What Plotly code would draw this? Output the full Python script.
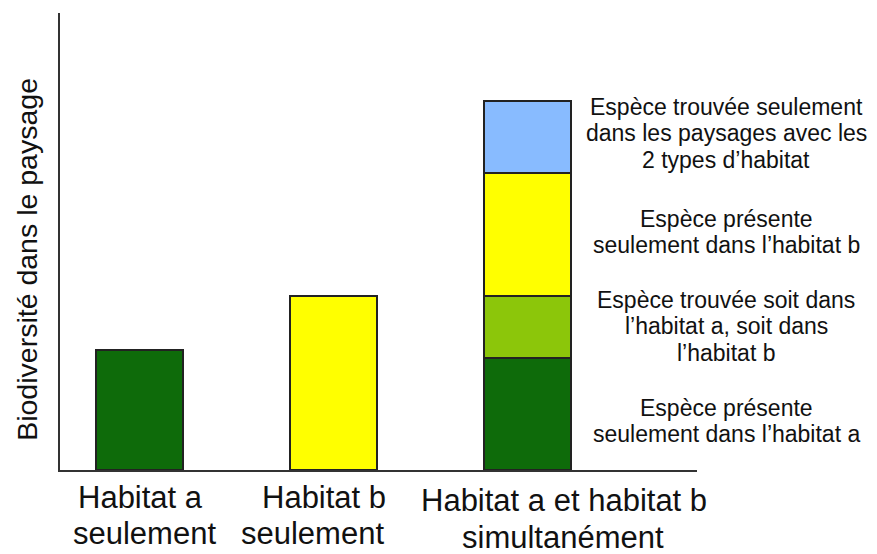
import plotly.graph_objects as go

# bar heights (arbitrary units)
x_pos = [0, 1, 2]
tick_lines = [["Habitat a", "seulement"],
              ["Habitat b", "seulement"],
              ["Habitat a et habitat b", "simultanément"]]
single_a = 120
single_b = 174
stack_a_only = 112
stack_either = 62
stack_b_only = 123
stack_both = 72

segment_lines = [
    ["Espèce présente", "seulement dans l’habitat a"],
    ["Espèce trouvée soit dans", "l’habitat a, soit dans", "l’habitat b"],
    ["Espèce présente", "seulement dans l’habitat b"],
    ["Espèce trouvée seulement", "dans les paysages avec les", "2 types d’habitat"],
]

dark_green = "#0e6b0a"
light_green = "#8cc60a"
yellow = "#ffff00"
blue = "#88bbff"
outline = dict(color="#222222", width=1.5)
txt_col = "#111111"

fig = go.Figure()
fig.add_trace(go.Bar(x=[x_pos[0]], y=[single_a], marker=dict(color=dark_green, line=outline)))
fig.add_trace(go.Bar(x=[x_pos[1]], y=[single_b], marker=dict(color=yellow, line=outline)))
stack = [stack_a_only, stack_either, stack_b_only, stack_both]
colors = [dark_green, light_green, yellow, blue]
for val, col in zip(stack, colors):
    fig.add_trace(go.Bar(x=[x_pos[2]], y=[val], marker=dict(color=col, line=outline)))

# labels next to the stacked bar, line by line (tighter spacing than plotly's <br>)
line_step = 26.5
seg_centre = [421, 326, 232, 133]   # pixel rows of each block's middle
for lines, yc in zip(segment_lines, seg_centre):
    n = len(lines)
    for i, ln in enumerate(lines):
        ypix = yc + (i - (n - 1) / 2) * line_step
        fig.add_annotation(x=1.046, y=(470 - ypix) / 457, xref="paper", yref="paper",
                           text=ln, showarrow=False, xanchor="center", yanchor="middle",
                           font=dict(size=23, color=txt_col))

# category labels under the axis
label_x = [[0.003, 0.028], [0.951, 0.894], [2.188, 2.183]]
label_y = [[-0.061, -0.138], [-0.061, -0.138], [-0.066, -0.147]]
for xs, ys, lines in zip(label_x, label_y, tick_lines):
    for lx, ly, ln in zip(xs, ys, lines):
        fig.add_annotation(x=lx, y=ly, xref="x", yref="paper", text=ln,
                           xanchor="center", yanchor="middle", showarrow=False,
                           font=dict(size=31, color=txt_col))

fig.add_annotation(x=-0.08, y=0.46, xref="paper", yref="paper",
                   text="Biodiversité dans le paysage", textangle=-90,
                   showarrow=False, font=dict(size=28.5, color=txt_col))

fig.update_layout(
    barmode="stack",
    bargap=0.55,
    width=877, height=554,
    margin=dict(l=52, r=188, t=5, b=92),
    paper_bgcolor="white", plot_bgcolor="white",
    showlegend=False,
    font=dict(family="Arial, Liberation Sans, sans-serif"),
    xaxis=dict(range=[-0.41, 2.874], showticklabels=False, ticks="",
               showgrid=False, zeroline=False, showline=True,
               linecolor="#333333", linewidth=2),
    yaxis=dict(range=[0, 457], showticklabels=False, ticks="",
               showgrid=False, zeroline=False, showline=True,
               linecolor="#333333", linewidth=2),
)

fig.write_html("out.html")
